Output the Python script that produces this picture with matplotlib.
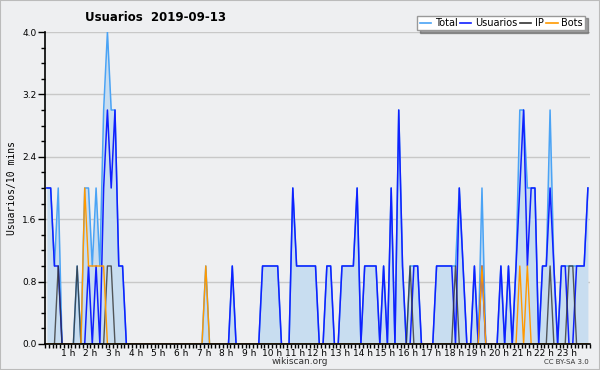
import numpy as np
import matplotlib
matplotlib.use("Agg")
import matplotlib.pyplot as plt
from matplotlib.ticker import FixedLocator, MultipleLocator

title = "Usuarios  2019-09-13"
ylabel = "Usuarios/10 mins"

# one value per 10 minutes, 12 values (2 hours) per row
usuarios = [
    2, 2, 1, 1, 0, 0, 0, 0, 0, 0, 0, 1,
    0, 1, 0, 2, 3, 2, 3, 1, 1, 0, 0, 0,
    0, 0, 0, 0, 0, 0, 0, 0, 0, 0, 0, 0,
    0, 0, 0, 0, 0, 0, 0, 0, 0, 0, 0, 0,
    0, 1, 0, 0, 0, 0, 0, 0, 0, 1, 1, 1,
    1, 1, 0, 0, 0, 2, 1, 1, 1, 1, 1, 1,
    0, 0, 1, 1, 0, 0, 1, 1, 1, 1, 2, 0,
    1, 1, 1, 1, 0, 1, 0, 2, 0, 3, 1, 0,
    0, 1, 1, 0, 0, 0, 0, 1, 1, 1, 1, 1,
    0, 2, 1, 0, 0, 1, 0, 1, 0, 0, 0, 0,
    1, 0, 1, 0, 1, 2, 3, 1, 2, 2, 0, 1,
    1, 2, 1, 0, 1, 1, 0, 0, 1, 1, 1, 2,
]
ip = [
    0, 0, 0, 1, 0, 0, 0, 0, 1, 0, 0, 0,
    0, 0, 0, 0, 1, 1, 0, 0, 0, 0, 0, 0,
    0, 0, 0, 0, 0, 0, 0, 0, 0, 0, 0, 0,
    0, 0, 0, 0, 0, 0, 0, 0, 0, 0, 0, 0,
    0, 0, 0, 0, 0, 0, 0, 0, 0, 0, 0, 0,
    0, 0, 0, 0, 0, 0, 0, 0, 0, 0, 0, 0,
    0, 0, 0, 0, 0, 0, 0, 0, 0, 0, 0, 0,
    0, 0, 0, 0, 0, 0, 0, 0, 0, 0, 0, 0,
    1, 0, 0, 0, 0, 0, 0, 0, 0, 0, 0, 0,
    1, 0, 0, 0, 0, 0, 0, 0, 0, 0, 0, 0,
    0, 0, 0, 0, 0, 0, 0, 0, 0, 0, 0, 0,
    0, 1, 0, 0, 0, 0, 1, 1, 0, 0, 0, 0,
]
bots = [
    0, 0, 0, 0, 0, 0, 0, 0, 0, 0, 2, 1,
    1, 1, 1, 1, 0, 0, 0, 0, 0, 0, 0, 0,
    0, 0, 0, 0, 0, 0, 0, 0, 0, 0, 0, 0,
    0, 0, 0, 0, 0, 0, 1, 0, 0, 0, 0, 0,
    0, 0, 0, 0, 0, 0, 0, 0, 0, 0, 0, 0,
    0, 0, 0, 0, 0, 0, 0, 0, 0, 0, 0, 0,
    0, 0, 0, 0, 0, 0, 0, 0, 0, 0, 0, 0,
    0, 0, 0, 0, 0, 0, 0, 0, 0, 0, 0, 0,
    0, 0, 0, 0, 0, 0, 0, 0, 0, 0, 0, 0,
    0, 0, 0, 0, 0, 0, 0, 1, 0, 0, 0, 0,
    0, 0, 0, 0, 0, 1, 0, 1, 0, 0, 0, 0,
    0, 0, 0, 0, 0, 0, 0, 0, 0, 0, 0, 0,
]
total = [
    2, 2, 1, 2, 0, 0, 0, 0, 1, 0, 2, 2,
    1, 2, 1, 3, 4, 3, 3, 1, 1, 0, 0, 0,
    0, 0, 0, 0, 0, 0, 0, 0, 0, 0, 0, 0,
    0, 0, 0, 0, 0, 0, 1, 0, 0, 0, 0, 0,
    0, 1, 0, 0, 0, 0, 0, 0, 0, 1, 1, 1,
    1, 1, 0, 0, 0, 2, 1, 1, 1, 1, 1, 1,
    0, 0, 1, 1, 0, 0, 1, 1, 1, 1, 2, 0,
    1, 1, 1, 1, 0, 1, 0, 2, 0, 3, 1, 0,
    1, 1, 1, 0, 0, 0, 0, 1, 1, 1, 1, 1,
    1, 2, 1, 0, 0, 1, 0, 2, 0, 0, 0, 0,
    1, 0, 1, 0, 1, 3, 3, 2, 2, 2, 0, 1,
    1, 3, 1, 0, 1, 1, 1, 1, 1, 1, 1, 2,
]
hours = list(range(1, 24))
hour_labels = ["%d h" % h for h in hours]

bg = "#eeeff1"
hrs = (np.arange(len(total)) + 0.5) / 6.0

fig = plt.figure(figsize=(6, 3.7), dpi=100, facecolor=bg)
ax = fig.add_axes([0.075, 0.0703, 0.908, 0.8432])
ax.set_facecolor(bg)

ax.fill_between(hrs, 0, total, color="#c8ddf0", lw=0, zorder=1)
ax.plot(hrs, total, color="#4aa3f5", lw=1.1, label="Total", zorder=3)
ax.plot(hrs, usuarios, color="#1020ff", lw=1.1, label="Usuarios", zorder=4)
ax.plot(hrs, ip, color="#333333", lw=1.0, alpha=0.8, label="IP", zorder=5)
ax.plot(hrs, bots, color="#ff9900", lw=1.0, label="Bots", zorder=6)

ax.set_xlim(0, 24)
ax.set_ylim(0, 4.0)
ax.yaxis.set_major_locator(MultipleLocator(0.8))
ax.yaxis.set_minor_locator(MultipleLocator(0.2))
ax.yaxis.set_major_formatter(matplotlib.ticker.FormatStrFormatter("%.1f"))
ax.xaxis.set_major_locator(FixedLocator(hours))
ax.set_xticklabels(hour_labels)
ax.xaxis.set_minor_locator(MultipleLocator(1 / 6))
ax.grid(axis="y", color="#c8c8c8", lw=1.0, zorder=0)
ax.set_axisbelow(True)

for s in ["top", "right"]:
    ax.spines[s].set_visible(False)
for s in ["left", "bottom"]:
    ax.spines[s].set_color("black")
    ax.spines[s].set_linewidth(1.2)
    ax.spines[s].set_zorder(7)

ax.tick_params(axis="x", which="major", length=3, width=1, labelsize=6.5, pad=0.5)
ax.tick_params(axis="x", which="minor", length=3, width=1)
ax.tick_params(axis="y", which="major", length=5, width=1, labelsize=6.5, pad=1)
ax.tick_params(axis="y", which="minor", length=3, width=1)

ax.set_ylabel(ylabel, family="DejaVu Sans Mono", fontsize=7, labelpad=4)

fig.text(0.142, 0.953, title, fontsize=8.5, fontweight="bold", ha="left", va="center")
fig.text(0.5, 0.024, "wikiscan.org", fontsize=6.5, color="#333333", ha="center", va="center")
fig.text(0.982, 0.022, "CC BY-SA 3.0", fontsize=5, color="#333333", ha="right", va="center")

leg = fig.legend(loc="upper right", bbox_to_anchor=(0.975, 0.958), ncol=4,
                 fontsize=7, frameon=True, fancybox=False, shadow=True,
                 handlelength=1.2, handletextpad=0.35, columnspacing=0.25,
                 borderpad=0.25, borderaxespad=0)
leg.get_frame().set_edgecolor("#999999")
leg.get_frame().set_facecolor("white")
leg.get_frame().set_linewidth(1.0)
for line in leg.get_lines():
    line.set_linewidth(1.2)
    line.set_alpha(1.0)

fig.patches.append(plt.Rectangle((0, 0), 1, 1, transform=fig.transFigure,
                                 fill=False, edgecolor="#bbbbbb", lw=1.5))

fig.savefig("out.png", dpi=100, facecolor=bg)
